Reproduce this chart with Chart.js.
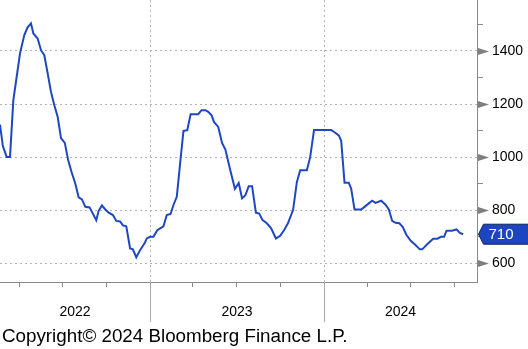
<!DOCTYPE html>
<html>
<head>
<meta charset="utf-8">
<script src="https://cdn.jsdelivr.net/npm/chart.js@4.4.1/dist/chart.umd.min.js"></script>
<style>
  html, body { margin: 0; padding: 0; background: #fff; }
  #wrap { width: 528px; height: 349px; position: relative; }
</style>
</head>
<body>
<div id="wrap"><canvas id="rateChart"></canvas></div>
<script>
// weekly readings
const dates = [
  '2022-02-20','2022-02-26','2022-03-06','2022-03-13','2022-03-20','2022-03-27','2022-04-03','2022-04-12',
  '2022-04-19','2022-04-26','2022-05-01','2022-05-10','2022-05-17','2022-05-24','2022-05-31','2022-06-07',
  '2022-06-14','2022-06-21','2022-06-28','2022-07-06','2022-07-13','2022-07-20','2022-07-28','2022-08-04',
  '2022-08-11','2022-08-18','2022-08-27','2022-09-10','2022-09-15','2022-09-22','2022-09-29','2022-10-06',
  '2022-10-15','2022-10-22','2022-10-30','2022-11-05','2022-11-12','2022-11-20','2022-11-26','2022-12-03',
  '2022-12-11','2022-12-21','2022-12-25','2023-01-01','2023-01-08','2023-01-16','2023-01-23','2023-01-29',
  '2023-02-05','2023-02-13','2023-02-19','2023-02-26','2023-03-05','2023-03-12','2023-03-20','2023-03-27',
  '2023-04-12','2023-04-19','2023-04-27','2023-05-03','2023-05-10','2023-05-15','2023-05-24','2023-06-01',
  '2023-06-08','2023-06-18','2023-06-28','2023-07-06','2023-07-13','2023-07-20','2023-07-27','2023-08-03',
  '2023-08-11','2023-08-18','2023-08-25','2023-09-03','2023-09-12','2023-09-22','2023-10-01','2023-10-09',
  '2023-10-17','2023-10-28','2023-11-05','2023-11-12','2023-11-26','2023-12-03','2023-12-11','2024-01-16',
  '2024-01-23','2024-02-01','2024-02-06','2024-02-13','2024-02-22','2024-02-27','2024-03-05','2024-03-19',
  '2024-03-26','2024-04-04','2024-04-11','2024-04-18','2024-04-30','2024-05-09','2024-05-16','2024-05-23',
  '2024-05-30','2024-06-07','2024-06-14','2024-06-22','2024-07-01','2024-07-11','2024-07-20','2024-07-25',
  '2024-08-05','2024-08-17','2024-08-26','2024-09-02','2024-09-09','2024-09-14','2024-09-25','2024-10-05',
  '2024-10-12','2024-10-19'
];
const values = [
  1123,1042,1001,1001,1215,1303,1391,1460,
  1489,1504,1466,1447,1403,1384,1316,1246,
  1196,1152,1072,1054,989,945,901,849,
  841,813,811,763,798,818,803,791,
  782,760,758,743,740,656,653,623,
  650,678,694,700,700,725,733,740,
  782,786,820,851,977,1099,1102,1162,
  1162,1177,1177,1171,1158,1133,1114,1054,
  1029,953,881,903,845,857,891,891,
  791,788,763,751,732,694,704,725,
  750,801,907,951,951,1001,1102,1102,
  1094,1082,1062,904,904,881,803,803,
  813,826,836,828,836,821,803,760,
  753,751,738,707,685,669,653,653,
  673,693,693,700,700,723,723,728,
  715,710
];
const years = [2022, 2023, 2024];
const yMajorTicks = [600, 800, 1000, 1200, 1400];
const yMinorTicks = [700, 900, 1100, 1300, 1500];
const lastValue = 710;

const xMin = Date.UTC(2022, 1, 20);
const xMax = Date.UTC(2024, 10, 17);
const yearStarts = years.map(y => Date.UTC(y, 0, 1));
const quarterStarts = [];
years.forEach(y => [0, 3, 6, 9].forEach(m => {
  const t = Date.UTC(y, m, 1);
  if (t > xMin && t < xMax) quarterStarts.push(t);
}));

const FONT = "'Liberation Sans', Arial, sans-serif";
const AXIS_GRAY = '#8a8a8a';
const GRID_GRAY = '#b4b4b4';
const LINE_BLUE = '#1f47c2';

const points = dates.map((d, i) => ({ x: Date.parse(d), y: values[i] }));

const bloombergExtras = {
  id: 'bloombergExtras',
  afterDraw(chart) {
    const { ctx, chartArea, scales: { x, y } } = chart;
    ctx.save();

    // arrow heads on the major y ticks
    ctx.fillStyle = '#7f7f7f';
    yMajorTicks.forEach(v => {
      const py = Math.round(y.getPixelForValue(v)) + 0.5;
      ctx.beginPath();
      ctx.moveTo(chartArea.right + 1, py - 3.5);
      ctx.lineTo(chartArea.right + 12, py);
      ctx.lineTo(chartArea.right + 1, py + 3.5);
      ctx.closePath();
      ctx.fill();
    });

    // year separators below the axis and centred year labels
    ctx.strokeStyle = '#a8a8a8';
    ctx.lineWidth = 1;
    yearStarts.forEach(t => {
      if (t <= xMin || t >= xMax) return;
      const px = Math.round(x.getPixelForValue(t)) + 0.5;
      ctx.beginPath();
      ctx.moveTo(px, chartArea.bottom);
      ctx.lineTo(px, chartArea.bottom + 40);
      ctx.stroke();
    });
    ctx.fillStyle = '#000';
    ctx.font = '14px ' + FONT;
    ctx.textAlign = 'center';
    ctx.textBaseline = 'middle';
    years.forEach(yr => {
      const a = Math.max(Date.UTC(yr, 0, 1), xMin);
      const b = Math.min(Date.UTC(yr + 1, 0, 1), xMax);
      const cx = (x.getPixelForValue(a) + x.getPixelForValue(b)) / 2;
      ctx.fillText(String(yr), cx, chartArea.bottom + 30);
    });

    // last value tag
    const ly = y.getPixelForValue(lastValue);
    const left = chartArea.right + 1.5;
    ctx.beginPath();
    ctx.moveTo(left, ly);
    ctx.lineTo(left + 5, ly - 10);
    ctx.lineTo(chart.width + 2, ly - 10);
    ctx.lineTo(chart.width + 2, ly + 10);
    ctx.lineTo(left + 5, ly + 10);
    ctx.closePath();
    ctx.fillStyle = '#1d45bd';
    ctx.fill();
    ctx.strokeStyle = '#0d2266';
    ctx.stroke();
    ctx.fillStyle = '#fff';
    ctx.font = '15px ' + FONT;
    ctx.textAlign = 'left';
    ctx.fillText(String(lastValue), left + 10, ly + 0.5);

    // source line
    ctx.fillStyle = '#000';
    ctx.font = '18.8px ' + FONT;
    ctx.textBaseline = 'alphabetic';
    ctx.fillText('Copyright\u00a9 2024 Bloomberg Finance L.P.', 2, 342);
    ctx.restore();
  }
};

new Chart(document.getElementById('rateChart').getContext('2d'), {
  type: 'line',
  data: {
    datasets: [{
      data: points,
      borderColor: LINE_BLUE,
      borderWidth: 2,
      pointRadius: 0,
      tension: 0,
      fill: false,
    }],
  },
  options: {
    responsive: true,
    maintainAspectRatio: false,
    animation: false,
    layout: { padding: 0 },
    plugins: { legend: { display: false }, tooltip: { enabled: false } },
    scales: {
      x: {
        type: 'linear',
        min: xMin,
        max: xMax,
        afterBuildTicks: scale => { scale.ticks = quarterStarts.map(v => ({ value: v })); },
        afterFit: scale => {
          scale.height = 67;
          scale.paddingLeft = 0;
          scale.paddingRight = 0;
        },
        ticks: { display: false },
        grid: {
          color: c => (yearStarts.includes(c.tick && c.tick.value) ? GRID_GRAY : 'rgba(0,0,0,0)'),
          tickColor: AXIS_GRAY,
          tickLength: 5,
        },
        border: { color: AXIS_GRAY, dash: [2, 3] },
      },
      y: {
        position: 'right',
        min: 530,
        max: 1592,
        afterBuildTicks: scale => {
          scale.ticks = yMajorTicks.concat(yMinorTicks).sort((a, b) => a - b).map(v => ({ value: v }));
        },
        afterFit: scale => {
          scale.width = 51;
          scale.paddingTop = 0;
          scale.paddingBottom = 0;
        },
        ticks: {
          callback: v => (yMajorTicks.includes(v) ? String(v) : ''),
          color: '#000',
          font: { family: FONT, size: 14 },
          padding: 9,
          autoSkip: false,
        },
        grid: {
          color: c => (yMajorTicks.includes(c.tick && c.tick.value) ? GRID_GRAY : 'rgba(0,0,0,0)'),
          tickColor: c => (yMajorTicks.includes(c.tick && c.tick.value) ? 'rgba(0,0,0,0)' : AXIS_GRAY),
          tickLength: 6,
        },
        border: { color: AXIS_GRAY, dash: [2, 3] },
      },
    },
  },
  plugins: [bloombergExtras],
});
</script>
</body>
</html>
